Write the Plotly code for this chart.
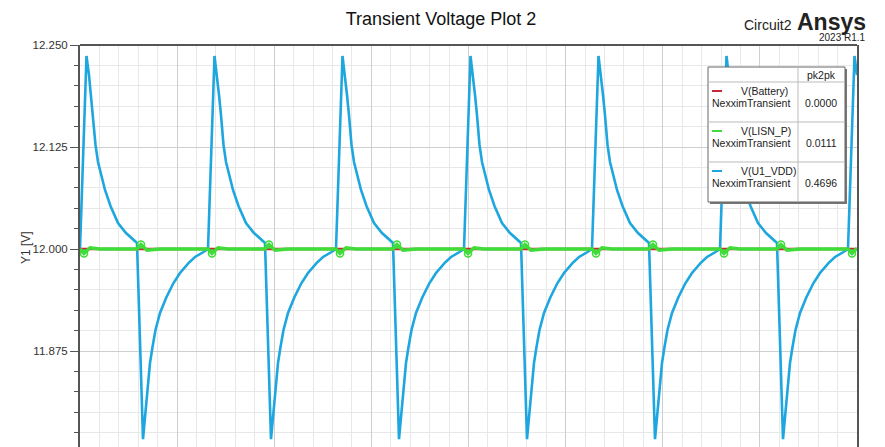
import plotly.graph_objects as go

# time axis in plot units (0..777 spans the visible window)
vdd_t = [
    0, 6.5, 9, 11, 13, 15.5, 18, 21, 25, 30.5, 38, 46, 50, 57, 63, 65, 66.5, 68.5, 70, 72.5, 75.5, 80, 86.5, 93.5, 100, 108.5, 115, 123.5,
    128, 134.5, 137, 139, 141, 143.5, 146, 149, 153, 158.5, 166, 174, 178, 185, 191, 193, 194.5, 196.5, 198, 200.5, 203.5, 208, 214.5, 221.5, 228, 236.5, 243, 251.5,
    256, 262.5, 265, 267, 269, 271.5, 274, 277, 281, 286.5, 294, 302, 306, 313, 319, 321, 322.5, 324.5, 326, 328.5, 331.5, 336, 342.5, 349.5, 356, 364.5, 371, 379.5,
    384, 390.5, 393, 395, 397, 399.5, 402, 405, 409, 414.5, 422, 430, 434, 441, 447, 449, 450.5, 452.5, 454, 456.5, 459.5, 464, 470.5, 477.5, 484, 492.5, 499, 507.5,
    512, 518.5, 521, 523, 525, 527.5, 530, 533, 537, 542.5, 550, 558, 562, 569, 575, 577, 578.5, 580.5, 582, 584.5, 587.5, 592, 598.5, 605.5, 612, 620.5, 627, 635.5,
    640, 646.5, 649, 651, 653, 655.5, 658, 661, 665, 670.5, 678, 686, 690, 697, 703, 705, 706.5, 708.5, 710, 712.5, 715.5, 720, 726.5, 733.5, 740, 748.5, 755, 763.5,
    768, 774.5, 777,
]
vdd_v = [
    12.0, 12.2365, 12.2132, 12.1887, 12.1642, 12.1275, 12.1066, 12.0907, 12.0723, 12.0527, 12.0319, 12.0196, 12.0147, 12.0074,
    11.7670, 11.7941, 11.8186, 11.8395, 11.8603, 11.8799, 11.9007, 11.9216, 11.9412, 11.9583, 11.9706, 11.9828, 11.9902, 11.9963,
    12.0, 12.2365, 12.2132, 12.1887, 12.1642, 12.1275, 12.1066, 12.0907, 12.0723, 12.0527, 12.0319, 12.0196, 12.0147, 12.0074,
    11.7670, 11.7941, 11.8186, 11.8395, 11.8603, 11.8799, 11.9007, 11.9216, 11.9412, 11.9583, 11.9706, 11.9828, 11.9902, 11.9963,
    12.0, 12.2365, 12.2132, 12.1887, 12.1642, 12.1275, 12.1066, 12.0907, 12.0723, 12.0527, 12.0319, 12.0196, 12.0147, 12.0074,
    11.7670, 11.7941, 11.8186, 11.8395, 11.8603, 11.8799, 11.9007, 11.9216, 11.9412, 11.9583, 11.9706, 11.9828, 11.9902, 11.9963,
    12.0, 12.2365, 12.2132, 12.1887, 12.1642, 12.1275, 12.1066, 12.0907, 12.0723, 12.0527, 12.0319, 12.0196, 12.0147, 12.0074,
    11.7670, 11.7941, 11.8186, 11.8395, 11.8603, 11.8799, 11.9007, 11.9216, 11.9412, 11.9583, 11.9706, 11.9828, 11.9902, 11.9963,
    12.0, 12.2365, 12.2132, 12.1887, 12.1642, 12.1275, 12.1066, 12.0907, 12.0723, 12.0527, 12.0319, 12.0196, 12.0147, 12.0074,
    11.7670, 11.7941, 11.8186, 11.8395, 11.8603, 11.8799, 11.9007, 11.9216, 11.9412, 11.9583, 11.9706, 11.9828, 11.9902, 11.9963,
    12.0, 12.2365, 12.2132, 12.1887, 12.1642, 12.1275, 12.1066, 12.0907, 12.0723, 12.0527, 12.0319, 12.0196, 12.0147, 12.0074,
    11.7670, 11.7941, 11.8186, 11.8395, 11.8603, 11.8799, 11.9007, 11.9216, 11.9412, 11.9583, 11.9706, 11.9828, 11.9902, 11.9963,
    12.0, 12.2365, 12.2132,
]

lisn_t = [
    0, 4, 10, 20, 57, 61, 67, 80,
    128, 132, 138, 148, 185, 189, 195, 208,
    256, 260, 266, 276, 313, 317, 323, 336,
    384, 388, 394, 404, 441, 445, 451, 464,
    512, 516, 522, 532, 569, 573, 579, 592,
    640, 644, 650, 660, 697, 701, 707, 720,
    768, 772, 777,
]
lisn_v = [
    12.0, 11.9945, 12.0015, 12.0, 12.0, 12.0056, 11.9985, 12.0,
    12.0, 11.9945, 12.0015, 12.0, 12.0, 12.0056, 11.9985, 12.0,
    12.0, 11.9945, 12.0015, 12.0, 12.0, 12.0056, 11.9985, 12.0,
    12.0, 11.9945, 12.0015, 12.0, 12.0, 12.0056, 11.9985, 12.0,
    12.0, 11.9945, 12.0015, 12.0, 12.0, 12.0056, 11.9985, 12.0,
    12.0, 11.9945, 12.0015, 12.0, 12.0, 12.0056, 11.9985, 12.0,
    12.0, 11.9945, 12.001,
]
lisn_mark_t = [4, 61, 132, 189, 260, 317, 388, 445, 516, 573, 644, 701, 772]
lisn_mark_v = [11.9945, 12.0056] * 6 + [11.9945]

battery_t = [0, 777]
battery_v = [12.0, 12.0]

trace_names = ["V(Battery)", "V(LISN_P)", "V(U1_VDD)"]
trace_pk2pk = ["0.0000", "0.0111", "0.4696"]
y_ticks = [11.875, 12.0, 12.125, 12.25]

RED = "#c8283a"
GREEN = "#3fdc3a"
BLUE = "#1ea6df"
FONT = "Arial, Liberation Sans, sans-serif"

# the page body has an 8px margin, so the figure is drawn 8px in from the window corner
OFF = 8
W, H = 885 - OFF, 447 - OFF
L, R, T, B = 80 - OFF, 28, 45 - OFF, 0
PW, PH = W - L - R, H - T - B


def px(x):
    # window pixel -> paper x
    return (x - OFF - L) / PW


def py(y):
    # window pixel -> paper y
    return (H - B - (y - OFF)) / PH


def label(text, x, y, size=10.5, xanchor="center", **kw):
    return dict(text=text, x=px(x), y=py(y), xref="paper", yref="paper", xanchor=xanchor,
                yanchor="middle", showarrow=False,
                font=dict(size=size, color=kw.pop("color", "#222"), family=FONT), **kw)


fig = go.Figure()
fig.add_trace(go.Scatter(x=vdd_t, y=vdd_v, mode="lines", name="V(U1_VDD)",
                         line=dict(color=BLUE, width=2.6)))
fig.add_trace(go.Scatter(x=battery_t, y=battery_v, mode="lines", name="V(Battery)",
                         line=dict(color=RED, width=2.5)))
fig.add_trace(go.Scatter(x=lisn_t, y=lisn_v, mode="lines", name="V(LISN_P)",
                         line=dict(color=GREEN, width=3.5)))
fig.add_trace(go.Scatter(x=lisn_mark_t, y=lisn_mark_v, mode="markers", showlegend=False,
                         marker=dict(symbol="circle-open", size=7, color=GREEN,
                                     line=dict(width=1.5, color=GREEN))))

# legend table
shapes = [
    dict(type="line", xref="paper", yref="paper", x0=0, x1=1, y0=1, y1=1,
         line=dict(color="#555", width=2)),
    dict(type="rect", xref="paper", yref="paper", x0=px(710), x1=px(847), y0=py(204), y1=py(69),
         fillcolor="#777", line=dict(width=0), layer="above"),
    dict(type="rect", xref="paper", yref="paper", x0=px(708), x1=px(845), y0=py(202), y1=py(67),
         fillcolor="white", line=dict(color="#666", width=1), layer="above"),
    dict(type="line", xref="paper", yref="paper", x0=px(798), x1=px(798), y0=py(202), y1=py(67),
         line=dict(color="#bbb", width=1), layer="above"),
]
for yy in [82, 122, 162]:
    shapes.append(dict(type="line", xref="paper", yref="paper", x0=px(708), x1=px(845),
                       y0=py(yy), y1=py(yy), line=dict(color="#bbb", width=1), layer="above"))

annotations = [
    label("pk2pk", 821, 75),
    label("Circuit2", 794, 25, size=14, xanchor="right"),
    label("<b>Ansys</b>", 868, 22, size=23, xanchor="right"),
    label("2023 R1.1", 868, 37, size=10, xanchor="right"),
    label("Y1 [V]", 26, 248, size=12, color="#333", textangle=-90),
]
for i, (name, val, col) in enumerate(zip(trace_names, trace_pk2pk, [RED, GREEN, BLUE])):
    base = 82 + 40 * i
    shapes.append(dict(type="line", xref="paper", yref="paper", x0=px(712), x1=px(722),
                       y0=py(base + 9), y1=py(base + 9), line=dict(color=col, width=2), layer="above"))
    annotations.append(label(name, 739, base + 9, xanchor="left"))
    annotations.append(label("NexximTransient", 710, base + 21, xanchor="left"))
    annotations.append(label(val, 839, base + 21, xanchor="right"))

fig.update_layout(
    width=W, height=H,
    margin=dict(l=L, r=R, t=T, b=B),
    paper_bgcolor="white", plot_bgcolor="white",
    showlegend=False,
    title=dict(text="Transient Voltage Plot 2", x=(441 - OFF) / W, y=1 - (19 - OFF) / H, xref="container",
               yref="container", xanchor="center", yanchor="middle",
               font=dict(size=18, color="#111", family=FONT)),
    xaxis=dict(range=[0, 777], tick0=0, dtick=97.125, showticklabels=False, ticks="",
               showline=False, zeroline=False, showgrid=True, gridcolor="#cfcfcf", gridwidth=1,
               minor=dict(tick0=0, dtick=19.425, showgrid=True, gridcolor="#e8e8e8", gridwidth=1)),
    yaxis=dict(range=[12.25 - PH * 0.125 / 102, 12.25], tickvals=y_ticks, tickformat=".3f",
               ticks="outside", ticklen=8, tickcolor="#555", tickwidth=1,
               showline=True, linecolor="#555", linewidth=2, mirror=True, zeroline=False,
               showgrid=True, gridcolor="#cfcfcf", gridwidth=1,
               tickfont=dict(size=11.5, color="#333", family=FONT),
               minor=dict(tick0=12.0, dtick=0.025, ticks="outside", ticklen=4, tickcolor="#555",
                          showgrid=True, gridcolor="#e8e8e8", gridwidth=1)),
    shapes=shapes,
    annotations=annotations,
)

fig.write_html("out.html")
